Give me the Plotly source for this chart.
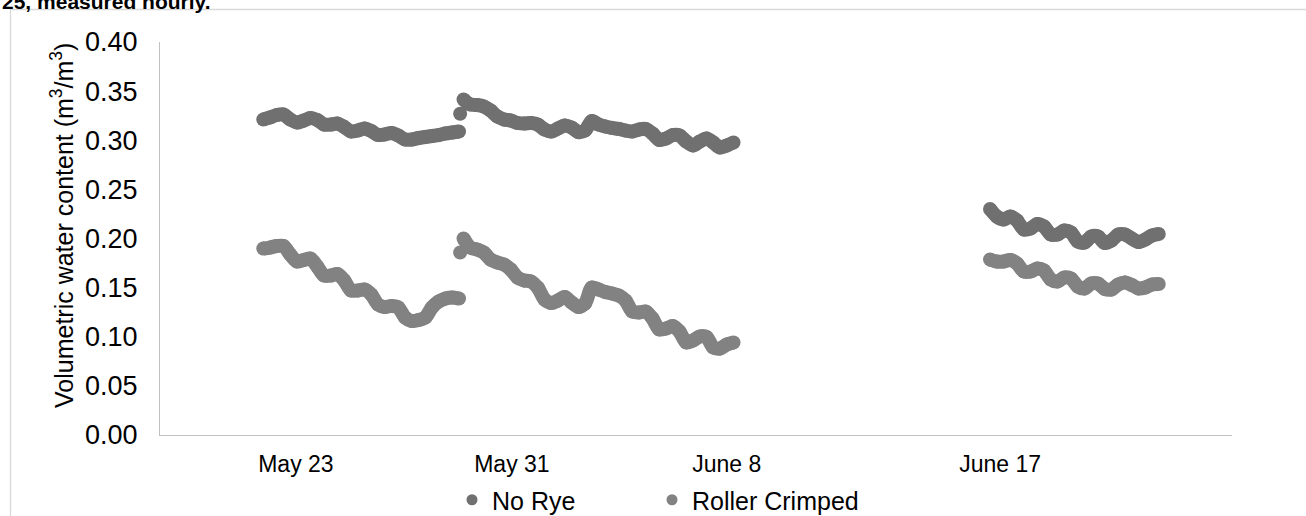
import plotly.graph_objects as go

# Hour index of each reading (record hour counted from the first reading)
hours_a = list(range(0, 175, 6))            # first run of readings
hours_jump = [175]                          # single reading right after the rain
hours_b = [178] + list(range(184, 419, 6))  # second run
hours_c = list(range(646, 797, 6))          # third run

# Volumetric water content, m3/m3
no_rye_a = [0.3211, 0.3232, 0.3257, 0.3262, 0.3211, 0.3181, 0.3201, 0.3226, 0.3206, 0.3160,
            0.3160, 0.3170, 0.3135, 0.3089, 0.3099, 0.3120, 0.3094, 0.3053, 0.3059, 0.3074,
            0.3048, 0.3008, 0.3008, 0.3023, 0.3033, 0.3043, 0.3053, 0.3069, 0.3079, 0.3089]
no_rye_jump = [0.3269]
no_rye_b = [0.3415, 0.3364, 0.3359, 0.3344, 0.3303, 0.3242, 0.3211, 0.3201, 0.3176, 0.3170,
            0.3176, 0.3160, 0.3109, 0.3089, 0.3120, 0.3150, 0.3130, 0.3084, 0.3099, 0.3196,
            0.3160, 0.3140, 0.3125, 0.3115, 0.3099, 0.3089, 0.3109, 0.3115, 0.3069, 0.3003,
            0.3018, 0.3053, 0.3048, 0.2987, 0.2947, 0.2987, 0.3018, 0.2977, 0.2926, 0.2947,
            0.2977]
no_rye_c = [0.2300, 0.2224, 0.2193, 0.2224, 0.2183, 0.2092, 0.2102, 0.2148, 0.2122, 0.2041,
            0.2041, 0.2081, 0.2061, 0.1969, 0.1959, 0.2020, 0.2020, 0.1954, 0.1980, 0.2041,
            0.2041, 0.2000, 0.1964, 0.1990, 0.2031, 0.2046]

crimped_a = [0.1898, 0.1908, 0.1924, 0.1924, 0.1837, 0.1766, 0.1781, 0.1796, 0.1715, 0.1623,
             0.1623, 0.1639, 0.1573, 0.1471, 0.1471, 0.1481, 0.1430, 0.1328, 0.1303, 0.1313,
             0.1298, 0.1196, 0.1160, 0.1170, 0.1196, 0.1298, 0.1359, 0.1389, 0.1399, 0.1389]
crimped_jump = [0.1858]
crimped_b = [0.2000, 0.1908, 0.1888, 0.1858, 0.1786, 0.1756, 0.1735, 0.1684, 0.1603, 0.1573,
             0.1562, 0.1501, 0.1379, 0.1344, 0.1369, 0.1405, 0.1349, 0.1303, 0.1338, 0.1501,
             0.1481, 0.1455, 0.1440, 0.1420, 0.1369, 0.1257, 0.1247, 0.1257, 0.1186, 0.1074,
             0.1084, 0.1109, 0.1053, 0.0941, 0.0962, 0.1003, 0.0997, 0.0891, 0.0880, 0.0921,
             0.0941]
crimped_c = [0.1786, 0.1766, 0.1766, 0.1781, 0.1746, 0.1664, 0.1664, 0.1695, 0.1674, 0.1583,
             0.1562, 0.1603, 0.1593, 0.1511, 0.1491, 0.1542, 0.1542, 0.1486, 0.1481, 0.1532,
             0.1552, 0.1527, 0.1491, 0.1501, 0.1532, 0.1537]

# Date labels along the record axis
tick_hours = [29, 221, 412, 655]
tick_labels = ["May 23", "May 31", "June 8", "June 17"]

series_names = ["No Rye", "Roller Crimped"]
series_colors = ["#707070", "#828282"]
legend_ids = ["legend", "legend2"]


def joined(*parts):
    """Concatenate runs with None gaps so separate runs are not connected."""
    out = []
    for i, p in enumerate(parts):
        if i:
            out.append(None)
        out.extend(p)
    return out


x_all = joined(hours_a, hours_jump, hours_b, hours_c)
series_values = [
    joined(no_rye_a, no_rye_jump, no_rye_b, no_rye_c),
    joined(crimped_a, crimped_jump, crimped_b, crimped_c),
]

fig = go.Figure()
for name, color, vals in zip(series_names, series_colors, series_values):
    fig.add_trace(go.Scatter(
        x=x_all, y=vals, mode="lines+markers", name=name, legendgroup=name,
        showlegend=False, connectgaps=False, hoverinfo="skip",
        line=dict(color=color, width=14, shape="spline", smoothing=0.8),
        marker=dict(color=color, size=14),
    ))
# legend entries (marker only), one legend box per series
for name, color, lg in zip(series_names, series_colors, legend_ids):
    fig.add_trace(go.Scatter(
        x=[None], y=[None], mode="markers", name=name, legendgroup=name,
        legend=lg, marker=dict(color=color, size=11),
    ))

FONT = "Liberation Sans, Arial, sans-serif"
PLOT_L, PLOT_R, PLOT_T, PLOT_B = 160, 1232, 42, 435
W, H = 1306, 516
pw, ph = PLOT_R - PLOT_L, PLOT_B - PLOT_T


def legend_box(left_px):
    return dict(orientation="h", x=(left_px - PLOT_L) / pw, xanchor="left",
                y=(PLOT_B - 477) / ph, yanchor="top",
                font=dict(size=25, family=FONT), itemwidth=30,
                bgcolor="rgba(0,0,0,0)")


fig.update_layout(
    width=W, height=H,
    margin=dict(l=PLOT_L, r=W - PLOT_R, t=PLOT_T, b=H - PLOT_B, pad=0,
                autoexpand=False),
    paper_bgcolor="white", plot_bgcolor="white",
    font=dict(family=FONT, color="#000000"),
    showlegend=True,
    legend=legend_box(452),
    legend2=legend_box(652),
    xaxis=dict(range=[-91.8, 861.1], showgrid=False, zeroline=False,
               showline=True, linecolor="#c0c0c0", linewidth=1.3,
               tickmode="array", tickvals=tick_hours, ticktext=tick_labels,
               ticks="outside", ticklen=8, tickcolor="rgba(0,0,0,0)",
               tickfont=dict(size=23, family=FONT)),
    yaxis=dict(range=[0, 0.40], showgrid=False, zeroline=False,
               showline=True, linecolor="#c0c0c0", linewidth=1.3,
               tickmode="array", tickvals=[i * 0.05 for i in range(9)],
               tickformat=".2f", ticks="outside", ticklen=16,
               tickcolor="rgba(0,0,0,0)",
               tickfont=dict(size=27, family=FONT)),
    shapes=[dict(type="rect", xref="paper", yref="paper",
                 x0=(10.5 - PLOT_L) / pw, x1=(1400 - PLOT_L) / pw,
                 y0=(PLOT_B - 600) / ph, y1=1 + (PLOT_T - 9.5) / ph,
                 line=dict(color="#d9d9d9", width=1.3), layer="below")],
    annotations=[
        dict(text="<b>25, measured hourly.</b>", xref="paper", yref="paper",
             x=(0 - PLOT_L) / pw, xanchor="left",
             y=1 + (PLOT_T - 15) / ph, yanchor="bottom",
             showarrow=False, font=dict(size=21, family=FONT)),
        dict(text="Volumetric water content (m<sup>3</sup>/m<sup>3</sup>)",
             xref="paper", yref="paper", textangle=-90,
             x=(62 - PLOT_L) / pw, xanchor="center",
             y=(PLOT_B - 226) / ph, yanchor="middle",
             showarrow=False, font=dict(size=25, family=FONT)),
    ],
)

fig.write_html("out.html")
